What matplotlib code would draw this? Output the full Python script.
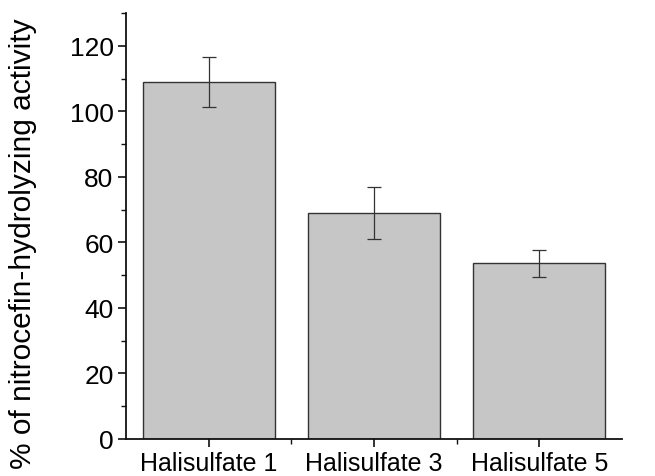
import matplotlib
matplotlib.use("Agg")
import matplotlib.pyplot as plt
from matplotlib.ticker import FixedLocator

categories = ["Halisulfate 1", "Halisulfate 3", "Halisulfate 5"]
values = [109.0, 69.0, 53.6]
errors = [7.7, 7.9, 4.2]

plt.rcParams['font.family'] = ['Liberation Sans', 'DejaVu Sans']

fig = plt.figure(figsize=(6.55, 4.77), dpi=100)
ax = fig.add_axes([126/655, 1-440/477, (622-126)/655, (440-14)/477])

x = list(range(len(categories)))
ax.bar(x, values, width=0.8, color='#c6c6c6', edgecolor='#333333', linewidth=1.0,
       yerr=errors, error_kw=dict(ecolor='#333333', elinewidth=0.9, capsize=5, capthick=0.9))

ax.set_xlim(-0.5, 2.5)
ax.set_ylim(0, 130)
ax.set_xticks(x)
ax.set_xticklabels(categories)
ax.xaxis.set_minor_locator(FixedLocator([0.5, 1.5]))
ax.yaxis.set_major_locator(FixedLocator([0, 20, 40, 60, 80, 100, 120]))
ax.yaxis.set_minor_locator(FixedLocator([10, 30, 50, 70, 90, 110, 130]))
ax.tick_params(axis='x', which='major', labelsize=18, pad=3)
ax.tick_params(axis='y', which='major', labelsize=19, pad=3)
ax.tick_params(axis='both', which='major', direction='out', length=6, width=1.2, color='#111111')
ax.tick_params(axis='both', which='minor', direction='out', length=3.5, width=1.0, color='#111111')
ax.set_ylabel("% of nitrocefin-hydrolyzing activity", fontsize=21.5)
ax.yaxis.set_label_coords(-0.179, 0.46)

for s in ['top', 'right']:
    ax.spines[s].set_visible(False)
for s in ['left', 'bottom']:
    ax.spines[s].set_linewidth(1.3)
    ax.spines[s].set_color('#111111')

fig.savefig("out.png", dpi=100)
